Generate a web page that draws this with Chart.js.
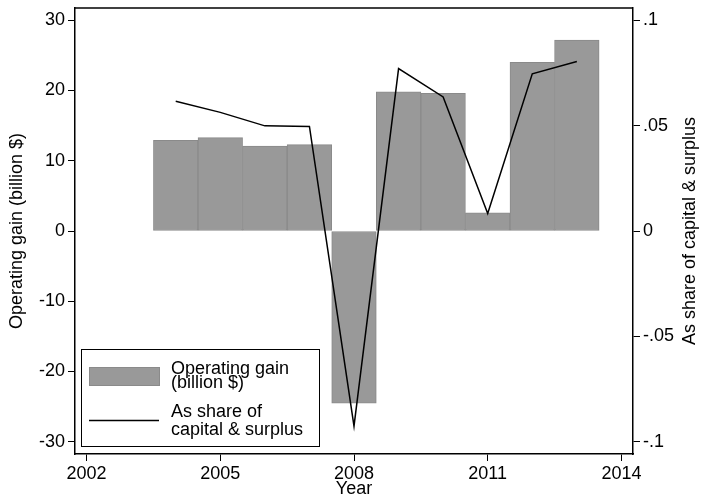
<!DOCTYPE html>
<html>
<head>
<meta charset="utf-8">
<script src="https://cdn.jsdelivr.net/npm/chart.js@4.4.1/dist/chart.umd.min.js"></script>
<style>
  body { margin: 0; background: #fff; }
  #wrap { width: 702px; height: 500px; }
</style>
</head>
<body>
<div id="wrap"><canvas id="chart" width="702" height="500"></canvas></div>
<script>
// data
const years = [2004, 2005, 2006, 2007, 2008, 2009, 2010, 2011, 2012, 2013];
const gains = [12.9, 13.3, 12.1, 12.3, -24.5, 19.8, 19.6, 2.6, 24.0, 27.2];
const shares = [0.0616, 0.0563, 0.0499, 0.0496, -0.0926, 0.0771, 0.0636, 0.0083, 0.0746, 0.0804];

const xTicks = [2002, 2005, 2008, 2011, 2014];
const leftTicks = [-30, -20, -10, 0, 10, 20, 30];
const rightTicks = [-0.1, -0.05, 0, 0.05, 0.1];
const rightLabels = ['-.1', '-.05', '0', '.05', '.1'];

const legendLabels = [['Operating gain', '(billion $)'], ['As share of', 'capital & surplus']];
const rightTitle = 'As share of capital & surplus';

const FONT = "'Liberation Sans', Arial, sans-serif";
Chart.defaults.font.family = FONT;
Chart.defaults.font.size = 18;
Chart.defaults.color = '#000';

const fixTicks = (vals) => (scale) => {
  scale.ticks = vals.map((v) => ({ value: v }));
};

// drop the half-label padding chart.js adds so the plot box lands where it should
const noPad = (w, h) => (s) => {
  if (w) s.width = w;
  if (h) s.height = h;
  s.paddingTop = 0;
  s.paddingBottom = 0;
  s.paddingLeft = 0;
  s.paddingRight = 0;
};

// top frame line, stata style legend box, and the right title read bottom-up
const extras = {
  id: 'extras',
  afterDraw(chart) {
    const ctx = chart.ctx;
    const area = chart.chartArea;
    ctx.save();
    ctx.strokeStyle = '#000';
    ctx.lineWidth = 1.5;
    ctx.beginPath();
    ctx.moveTo(area.left, area.top);
    ctx.lineTo(area.right, area.top);
    ctx.stroke();

    ctx.fillStyle = '#fff';
    ctx.fillRect(81.5, 349.5, 238, 97);
    ctx.lineWidth = 1;
    ctx.strokeRect(81.5, 349.5, 238, 97);

    ctx.fillStyle = '#999999';
    ctx.fillRect(89, 367, 71, 19);
    ctx.strokeStyle = '#8a8a8a';
    ctx.strokeRect(89.5, 367.5, 70, 18);

    ctx.strokeStyle = '#000';
    ctx.lineWidth = 1.5;
    ctx.beginPath();
    ctx.moveTo(89, 420.5);
    ctx.lineTo(159, 420.5);
    ctx.stroke();

    ctx.fillStyle = '#000';
    ctx.font = '18px ' + FONT;
    ctx.textBaseline = 'alphabetic';
    ctx.textAlign = 'left';
    ctx.fillText(legendLabels[0][0], 171, 374);
    ctx.fillText(legendLabels[0][1], 171, 388);
    ctx.fillText(legendLabels[1][0], 171, 417);
    ctx.fillText(legendLabels[1][1], 171, 435);

    ctx.translate(690, (area.top + area.bottom) / 2);
    ctx.rotate(-Math.PI / 2);
    ctx.textAlign = 'center';
    ctx.textBaseline = 'middle';
    ctx.fillText(rightTitle, 0, 0);
    ctx.restore();
  }
};

new Chart(document.getElementById('chart'), {
  data: {
    datasets: [
      {
        type: 'line',
        label: 'As share of capital & surplus',
        data: years.map((y, i) => ({ x: y, y: shares[i] })),
        yAxisID: 'y2',
        borderColor: '#000',
        borderWidth: 1.5,
        pointRadius: 0,
        tension: 0,
        order: 0,
      },
      {
        type: 'bar',
        label: 'Operating gain (billion $)',
        data: years.map((y, i) => ({ x: y, y: gains[i] })),
        yAxisID: 'y',
        backgroundColor: '#999999',
        borderColor: '#8a8a8a',
        borderWidth: 1,
        borderSkipped: false,
        barPercentage: 1,
        categoryPercentage: 1,
        order: 1,
      },
    ],
  },
  options: {
    responsive: false,
    animation: false,
    layout: { padding: { top: 8, left: 0, right: 0, bottom: 0 } },
    plugins: { legend: { display: false }, tooltip: { enabled: false } },
    scales: {
      x: {
        type: 'linear',
        offset: false,
        min: 2001.74,
        max: 2014.26,
        afterBuildTicks: fixTicks(xTicks),
        afterFit: noPad(0, 46),
        grid: { offset: false, drawOnChartArea: false, drawTicks: true, tickLength: 7, color: '#000' },
        border: { display: true, color: '#000', width: 1.5 },
        ticks: { padding: 2, maxRotation: 0, callback: (v) => String(v) },
        title: { display: true, text: 'Year', padding: { top: 0, bottom: 0 }, font: { size: 18 } },
      },
      y: {
        position: 'left',
        min: -31.75,
        max: 31.75,
        afterBuildTicks: fixTicks(leftTicks),
        afterFit: noPad(75, 0),
        grid: { drawOnChartArea: false, drawTicks: true, tickLength: 7, color: '#000' },
        border: { display: true, color: '#000', width: 1.5 },
        ticks: { padding: 3 },
        title: { display: true, text: 'Operating gain (billion $)', padding: { top: 6, bottom: 0 }, font: { size: 18 } },
      },
      y2: {
        position: 'right',
        min: -0.10583,
        max: 0.10583,
        afterBuildTicks: fixTicks(rightTicks),
        afterFit: noPad(69, 0),
        grid: { drawOnChartArea: false, drawTicks: true, tickLength: 7, color: '#000' },
        border: { display: true, color: '#000', width: 1.5 },
        ticks: {
          padding: 3,
          callback: (v) => rightLabels[rightTicks.findIndex((t) => Math.abs(t - v) < 1e-9)],
        },
      },
    },
  },
  plugins: [extras],
});
</script>
</body>
</html>
